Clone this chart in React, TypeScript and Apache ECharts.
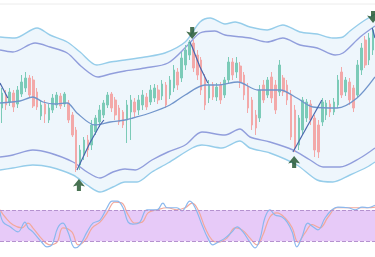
import React, { useEffect, useRef } from 'react';
import * as echarts from 'echarts';

// Candles: [open, close, low, high]
const candles: number[][] = [
  [92,107,77,112],[105,95,90,110],[98,108,94,112],[107,93,88,110],[96,110,92,114],
  [106,118,103,125],[112,122,108,128],[122,105,102,125],[120,94,92,124],[108,93,90,112],
  [84,95,80,100],[96,86,77,100],[80,92,77,96],[90,102,87,106],[95,105,92,108],
  [104,94,91,107],[96,106,93,108],[97,80,77,100],[85,65,63,88],[70,32,28,73],
  [35,50,30,55],[45,60,40,63],[60,50,43,65],[55,75,50,80],[68,82,65,85],
  [78,90,73,95],[85,97,82,100],[95,105,92,108],[106,92,88,108],[100,85,80,103],
  [92,78,75,95],[88,75,72,90],[80,95,57,100],[88,100,60,105],[98,88,82,102],
  [90,100,85,105],[95,105,90,110],[103,93,90,107],[98,110,95,115],[102,112,98,116],
  [110,100,96,115],[104,116,100,120],[115,95,92,118],[105,120,101,124],[112,130,108,135],
  [128,115,110,132],[122,142,118,148],[135,150,130,155],[145,158,140,160],[157,132,128,160],
  [145,125,120,150],[140,110,105,143],[122,95,90,126],[102,115,97,120],[115,103,100,118],
  [103,113,99,117],[115,100,96,118],[105,120,102,123],[120,138,116,143],[138,125,120,142],
  [128,137,122,143],[134,118,112,138],[125,105,100,128],[113,92,87,117],[100,75,70,103],
  [85,72,65,90],[82,110,78,115],[115,100,97,120],[105,120,102,123],[123,102,97,128],
  [115,90,86,120],[108,135,104,140],[122,108,104,125],[115,100,95,120],[105,63,60,110],
  [90,52,48,95],[55,82,50,85],[70,100,65,103],[82,98,78,101],[96,80,75,100],
  [82,50,43,85],[75,48,42,80],[78,98,74,102],[85,97,80,100],[96,88,83,100],
  [88,98,85,102],[95,120,92,125],[128,105,102,133],[108,120,104,123],[118,100,95,122],
  [112,92,88,115],[105,135,102,140],[130,152,125,157],[160,135,132,164],[140,162,135,167],
  [150,170,145,173]
];
const categories: string[] = candles.map((_, i) => 'D' + (i + 1));

// Overlay lines: [time position (candle units), price]
const outerUpper = [[0,163],[3.8,162],[9.5,172],[12.8,165],[17.2,158],[20.5,148],[24.8,135],[28.2,138],[32,140],[37.1,143],[42.2,147],[47.4,158],[51.2,178],[53.8,182],[57.6,176],[60.2,178],[64,173],[68.4,170],[72.4,175],[76.8,168],[81.2,166],[85.2,162],[87.8,163],[89.6,169],[92.7,178],[96,186]];
const innerUpper = [[0,150],[3.3,148],[9,157],[12.8,153],[17.2,147],[21,133],[25.1,123],[28.2,126],[32,129],[37.1,132],[43,137],[48.1,155],[51.2,167],[55,169],[57.6,165],[64,162],[68.4,158],[72.4,162],[76.8,155],[81.2,152],[85.8,145],[87.8,147],[92.2,163],[96,174]];
const middleMA = [[0,97],[5.1,99],[8.4,103],[11,98],[14.1,96],[17.2,97],[19.7,87],[24.3,75],[28.2,78],[32,80],[34,82],[38.4,87],[43.5,95],[47.4,105],[52.5,115],[55.8,115],[60.9,118],[66,110],[71.7,110],[76,102],[80.1,93],[86.3,92],[91.4,102],[96,123]];
const innerLower = [[0,43],[3.3,45],[8.4,50],[12.8,47],[18.7,38],[22.3,28],[25.6,22],[28.9,28],[32,31],[34.6,30],[38.9,40],[43,48],[47.4,55],[51.7,68],[57.6,65],[61.4,71],[64,63],[69.1,58],[75,50],[79.4,40],[82.7,33],[87,33],[92.2,42],[96,52]];
const outerLower = [[0,30],[3.3,32],[8.4,35],[12.8,33],[18.7,25],[22.3,15],[25.6,8],[28.9,13],[32,18],[35.1,18],[38.9,28],[43,37],[49.2,52],[51.7,55],[56.8,52],[61.4,59],[64,52],[69.1,47],[76,35],[81.2,20],[85.2,18],[89.6,25],[94,33],[96,38]];

const zigzagSegments = [
  [[0,117],[2.0,102]],
  [[19.7,30],[23,57],[25.6,75],[26.6,80]],
  [[48.6,158],[49.2,153],[51.2,133],[53.2,117]],
  [[75,48],[82.4,100]],
  [[95.3,172],[96,162]]
];

const arrowsDown = [[49.2,167],[95.5,183]];
const arrowsUp = [[20.2,15],[75.3,38]];

// Stochastic oscillator
const stochK = [[0,77],[0.8,57],[2.6,48],[4.6,38],[6.4,57],[7.2,46],[8.4,38],[10.8,17],[12,9],[13.3,13],[14.8,46],[16.1,55],[17.4,38],[19.2,7],[20.5,13],[22.3,38],[23.8,55],[25.6,61],[27.4,85],[28.7,98],[30,98],[31.5,85],[32.8,57],[34,53],[35.8,57],[37.6,81],[40.2,81],[41.7,94],[42.8,85],[45.3,85],[46.6,79],[48.6,98],[49.9,86],[51.7,52],[53.2,26],[54.5,13],[55.8,18],[57.6,26],[59.4,38],[60.7,48],[62.2,38],[64,18],[65.3,7],[66.6,26],[67.8,65],[69.1,81],[70.4,71],[72.2,67],[73.5,57],[74.8,38],[76,9],[77.3,28],[78.8,55],[80.1,48],[81.4,42],[83.2,65],[85,81],[86.5,86],[89.1,85],[90.9,81],[92.7,86],[94.2,85],[96,90]];
const stochD = [[0,81],[1.3,67],[3.3,52],[5.6,46],[7.2,55],[8.4,46],[11,22],[12.8,13],[14.6,18],[16.1,46],[18.4,38],[20,13],[21.8,22],[23.6,46],[25.6,57],[27.4,75],[29.4,96],[31.2,94],[32.8,71],[34.6,55],[36.4,57],[37.9,75],[40.2,81],[42.8,85],[45.3,81],[47.4,85],[49.2,94],[50.7,81],[52.5,46],[54.3,22],[55.8,18],[58.1,26],[60.2,46],[62,42],[64,26],[65.8,13],[67.3,32],[69.1,67],[70.9,75],[73,65],[74.8,46],[76.3,18],[78.1,36],[79.9,52],[81.9,46],[84,67],[86.3,85],[89.1,85],[91.6,85],[94.2,85],[96,86]];
const stochLevels = [20, 80];

const ARROW_DOWN = 'path://M3.3,0 L6.7,0 L6.7,4.5 L10,3.8 L5,10 L0,3.8 L3.3,4.5 Z';
const ARROW_UP = 'path://M3.3,10 L6.7,10 L6.7,5.5 L10,6.2 L5,0 L0,6.2 L3.3,5.5 Z';

function bandLine(data: number[][], color: string, z: number) {
  return {
    type: 'line', xAxisIndex: 1, yAxisIndex: 0, data, showSymbol: false, smooth: 0.3,
    lineStyle: { color, width: 1.4 }, z, silent: true,
  };
}

export default function App() {
  const ref = useRef<HTMLDivElement>(null);
  useEffect(() => {
    const chart = echarts.init(ref.current!, undefined, { renderer: 'svg' });
    const series: any[] = [
      {
        type: 'line', xAxisIndex: 1, yAxisIndex: 0, data: outerUpper, showSymbol: false, smooth: 0.3,
        lineStyle: { width: 0 }, areaStyle: { color: '#eef6fc', origin: 'start', opacity: 1 }, z: 1, silent: true,
      },
      {
        type: 'line', xAxisIndex: 1, yAxisIndex: 0, data: outerLower, showSymbol: false, smooth: 0.3,
        lineStyle: { width: 0 }, areaStyle: { color: '#ffffff', origin: 'start', opacity: 1 }, z: 2, silent: true,
      },
      bandLine(outerUpper, '#96cdea', 3),
      bandLine(outerLower, '#96cdea', 3),
      bandLine(innerUpper, '#919edc', 3),
      bandLine(innerLower, '#919edc', 3),
      {
        type: 'candlestick', xAxisIndex: 0, yAxisIndex: 0, data: candles, barWidth: '55%', z: 5,
        itemStyle: { color: '#7ccbb8', color0: '#f3a9a9', borderColor: '#7ccbb8', borderColor0: '#f3a9a9', borderWidth: 1 },
      },
      {
        type: 'line', xAxisIndex: 1, yAxisIndex: 0, data: middleMA, showSymbol: false, smooth: 0.3,
        lineStyle: { color: '#7195cb', width: 1.3 }, z: 6, silent: true,
      },
      ...zigzagSegments.map((seg) => ({
        type: 'line', xAxisIndex: 1, yAxisIndex: 0, data: seg, showSymbol: false,
        lineStyle: { color: '#4a67ad', width: 1.2 }, z: 7, silent: true,
      })),
      {
        type: 'scatter', xAxisIndex: 1, yAxisIndex: 0, data: arrowsDown, symbol: ARROW_DOWN,
        symbolSize: [12, 12], itemStyle: { color: '#1a4f27' }, z: 8, silent: true,
      },
      {
        type: 'scatter', xAxisIndex: 1, yAxisIndex: 0, data: arrowsUp, symbol: ARROW_UP,
        symbolSize: [12, 12], itemStyle: { color: '#1a4f27' }, z: 8, silent: true,
      },
      {
        type: 'line', xAxisIndex: 2, yAxisIndex: 1, data: stochD, showSymbol: false, smooth: 0.4,
        lineStyle: { color: '#f2a89c', width: 1.2 }, z: 3, silent: true,
        markArea: {
          silent: true, itemStyle: { color: '#e7caf8' },
          data: [[{ yAxis: stochLevels[0] }, { yAxis: stochLevels[1] }]],
        },
        markLine: {
          silent: true, symbol: 'none', label: { show: false },
          lineStyle: { type: 'dashed', color: '#b592cf', width: 1 },
          data: stochLevels.map((v) => ({ yAxis: v })),
        },
      },
      {
        type: 'line', xAxisIndex: 2, yAxisIndex: 1, data: stochK, showSymbol: false, smooth: 0.4,
        lineStyle: { color: '#8ab8ee', width: 1.2 }, z: 4, silent: true,
      },
    ];
    chart.setOption({
      animation: false,
      backgroundColor: '#ffffff',
      grid: [
        { left: 0, right: 0, top: 0, height: 195 },
        { left: 0, right: 0, top: 200, height: 51.5 },
      ],
      xAxis: [
        { type: 'category', gridIndex: 0, data: categories, show: false, boundaryGap: true },
        { type: 'value', gridIndex: 0, min: 0, max: 96, show: false },
        { type: 'value', gridIndex: 1, min: 0, max: 96, show: false },
      ],
      yAxis: [
        { type: 'value', gridIndex: 0, min: 5, max: 200, show: false },
        { type: 'value', gridIndex: 1, min: 0, max: 100, show: false },
      ],
      graphic: [
        { type: 'line', shape: { x1: 0, y1: 4, x2: 375, y2: 4 }, style: { stroke: '#ececec', lineWidth: 1 }, z: 10 },
      ],
      series,
    });
    return () => chart.dispose();
  }, []);
  return <div ref={ref} style={{ position: 'fixed', left: 0, top: 0, width: 375, height: 257 }} />;
}
